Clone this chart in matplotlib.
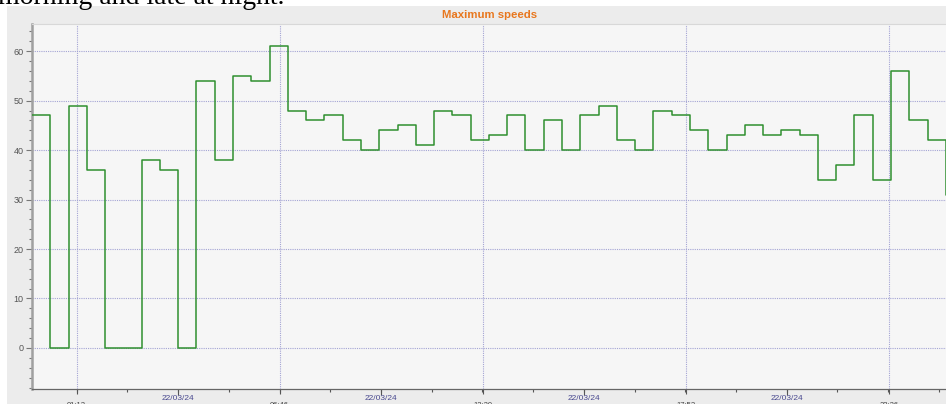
import matplotlib
matplotlib.use("Agg")
import matplotlib.pyplot as plt
import numpy as np
from matplotlib.patches import Rectangle
from matplotlib.ticker import MultipleLocator, FixedLocator

# ---- data ----
title = "Maximum speeds"
caption = "morning and late at night."
start_minute = 0          # 00:00
interval_minutes = 30     # one sample every 30 min
max_speeds = [47, 0, 49, 36, 0, 0, 38, 36, 0, 54, 38, 55, 54, 61, 48, 46, 47,
              42, 40, 44, 45, 41, 48, 47, 42, 43, 47, 40, 46, 40, 47, 49, 42,
              40, 48, 47, 44, 40, 43, 45, 43, 44, 43, 34, 37, 47, 34, 56, 46,
              42, 31]
time_labels = ["01:13", "06:46", "12:20", "17:53", "23:26"]
date_label = "22/03/24"
y_ticks = [0, 10, 20, 30, 40, 50, 60]

def to_min(s):
    h, m = s.split(":")
    return int(h) * 60 + int(m) + (20 / 60 if s in ("01:13", "06:46", "17:53", "23:26") else 0)

x = start_minute + interval_minutes * np.arange(len(max_speeds))
xs = np.append(x, x[-1] + interval_minutes)
ys = np.append(max_speeds, max_speeds[-1])

W, H = 946, 404
fig = plt.figure(figsize=(W / 100, H / 100), dpi=100, facecolor="white")
fig.patches.append(Rectangle((7 / W, 0), 1, 1 - 6 / H, transform=fig.transFigure,
                             facecolor="#ececec", edgecolor="none", zorder=-5))

ax = fig.add_axes([32 / W, 15 / H, 1 - 32 / W + 0.0005, (389 - 24) / H])
ax.set_facecolor("#f6f6f6")

ax.plot(xs, ys, drawstyle="steps-post", color="#2f8f2f", lw=1.1, zorder=3)

ax.set_xlim(0, 1501)
ax.set_ylim(-8.3, 65.5)

# y axis
ax.yaxis.set_major_locator(FixedLocator(y_ticks))
ax.yaxis.set_minor_locator(MultipleLocator(2))
ax.tick_params(axis="y", which="major", length=4, width=0.8, color="#777777",
               labelsize=6.5, labelcolor="#555555", pad=2)
ax.tick_params(axis="y", which="minor", length=2.5, width=0.8, color="#777777")
for lab in ax.get_yticklabels():
    lab.set_family("Liberation Sans")

# x axis: time labels (major) and date labels (minor)
t_pos = [to_min(s) for s in time_labels]
step = (t_pos[1] - t_pos[0])
d_pos = [p + step / 2 for p in t_pos[:-1]]
ax.set_xticks(t_pos)
ax.set_xticklabels(time_labels, family="Liberation Sans", fontsize=5.5, color="#444444")
ax.set_xticks(d_pos, minor=True)
ax.set_xticklabels([date_label] * len(d_pos), minor=True, family="Liberation Sans",
                   fontsize=6, color="#4a4a90")
ax.tick_params(axis="x", which="major", length=3.5, width=0.8, color="#555555", pad=5.8)
ax.tick_params(axis="x", which="minor", length=4, width=0.8, color="#555555", pad=0.5)

sec = ax.secondary_xaxis("bottom")
q = step / 4
q_pos = [p for p in np.arange(t_pos[0] - q * 2, 1501, q) if p >= 0]
sec.set_xticks(q_pos)
sec.tick_params(length=2, width=0.8, color="#555555", labelbottom=False)
sec.spines["bottom"].set_visible(False)

# grid
ax.grid(True, which="major", axis="both", linestyle=(0, (1, 1)), color="#a4a4d4", lw=0.8)
ax.set_axisbelow(True)

ax.spines["right"].set_visible(False)
ax.spines["top"].set_color("#d8d8d8")
ax.spines["left"].set_color("#a0a0a0")
ax.spines["left"].set_linewidth(1.8)
ax.spines["bottom"].set_color("#666666")
ax.spines["bottom"].set_linewidth(0.9)

fig.text(490 / W, 1 - 14.5 / H, title, ha="center", va="center", fontsize=8.2,
         fontweight="bold", color="#e8771e", family="Liberation Sans")
fig.text(-2 / W, 1 - 4.5 / H, caption, ha="left", va="baseline", fontsize=20,
         family="Liberation Serif", color="black")

fig.savefig("out.png", dpi=100, facecolor="white")
